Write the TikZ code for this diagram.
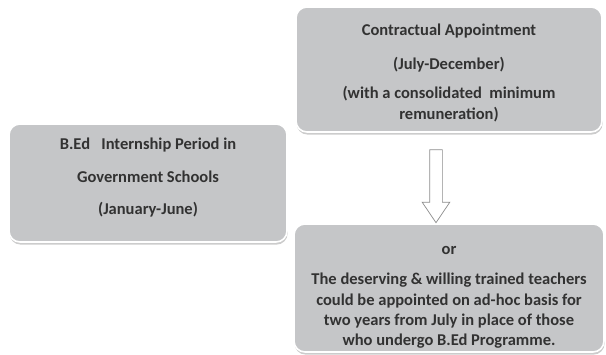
\documentclass[tikz,border=0pt]{standalone}
\usepackage{fontspec}
\setmainfont{Carlito}
\usepackage{tikz}
\usetikzlibrary{shapes.arrows}
\usetikzlibrary{shadows}
\usetikzlibrary{positioning}
\definecolor{boxgray}{RGB}{197,198,200}
\definecolor{textgray}{RGB}{50,50,50}
\tikzset{
	stagebox/.style={draw=white, line width=1.6pt, fill=boxgray, rounded corners=11pt,
		drop shadow={shadow xshift=0.6pt, shadow yshift=-2.6pt, fill=black!25, opacity=0.8},
		align=center, text=textgray, font=\fontsize{16.5}{20.3}\selectfont\bfseries, inner sep=0pt},
	downarrow/.style={single arrow, shape border rotate=270, draw=black!45, fill=white,
		line width=0.7pt, minimum height=73pt, inner sep=6pt,
		single arrow head extend=7.5pt, single arrow tip angle=68},
}

\begin{document}
\begin{tikzpicture}[x=1pt, y=-1pt]
	\useasboundingbox (0,0) rectangle (606,355);
	% stages
	\node[stagebox, minimum width=278, minimum height=118] (internship) at (148,183)
		{B.Ed\ \ \ Internship Period in\\[12pt] Government Schools\\[12pt] (January-June)\\[-7pt]};
	\node[stagebox, minimum width=306, minimum height=125] (contract) at (449,69.5)
		{Contractual Appointment\\[14pt] (July-December)\\[9pt] (with a consolidated\ \ minimum\\ remuneration)\\[-24pt]};
	\node[stagebox, minimum width=310, minimum height=128] (adhoc) at (449,288)
		{or\\[10.5pt] The deserving \& willing trained teachers\\ could be appointed on ad-hoc basis for\\ two years from July in place of those\\ who undergo B.Ed Programme.\\[-36pt]};
	% arrow between the two options
	\node[downarrow] (choice) at (436,181.5) {};
\end{tikzpicture}
\end{document}
